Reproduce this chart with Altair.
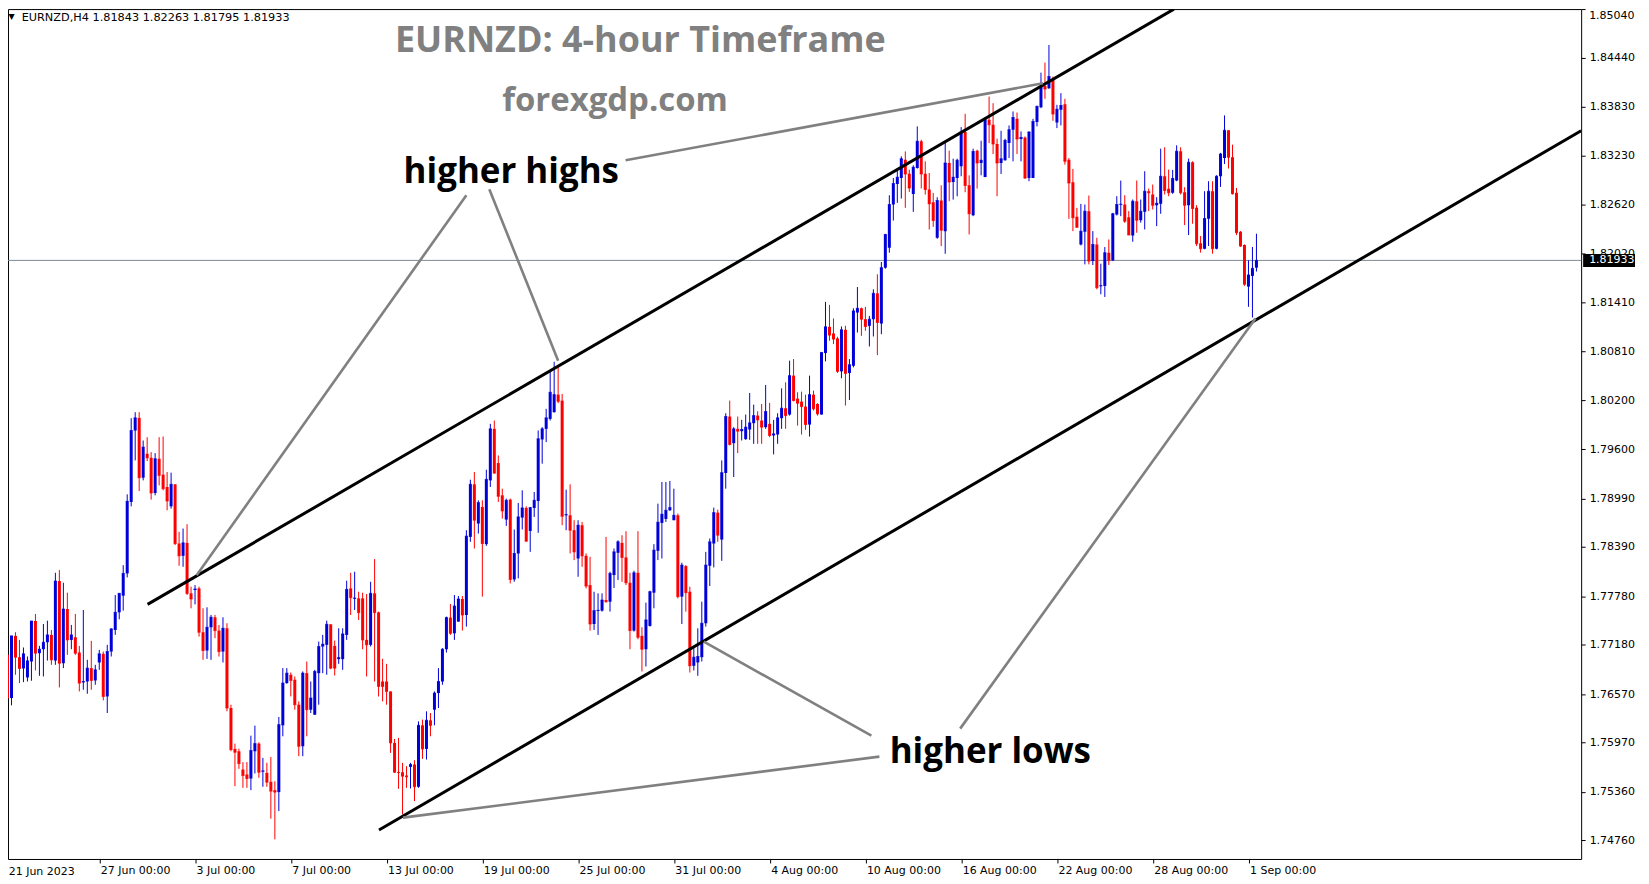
import json
import altair as alt
import pandas as pd

# ---------------- data (EURNZD H4) ----------------
opens = [
    1.76973, 1.77055, 1.76521, 1.77290, 1.77026, 1.76887, 1.76776, 1.76973, 1.77474, 1.77076,
    1.77125, 1.77211, 1.77302, 1.76985, 1.77968, 1.76952, 1.77622, 1.77240, 1.77273, 1.77084,
    1.76714, 1.76726, 1.76891, 1.76739, 1.76961, 1.77068, 1.76541, 1.77096, 1.77363, 1.77581,
    1.77787, 1.78062, 1.78946, 1.79829, 1.79986, 1.79246, 1.79542, 1.79492, 1.79057, 1.79480,
    1.79283, 1.79131, 1.78892, 1.79164, 1.78432, 1.78280, 1.78440, 1.77816, 1.77857, 1.77877,
    1.77335, 1.77109, 1.77396, 1.77520, 1.77355, 1.77096, 1.77384, 1.76398, 1.75892, 1.75863,
    1.75637, 1.75576, 1.75526, 1.75863, 1.75958, 1.75612, 1.75596, 1.75485, 1.75382, 1.75358,
    1.76184, 1.76706, 1.76809, 1.76747, 1.76439, 1.75925, 1.76829, 1.76377, 1.76315, 1.76829,
    1.77158, 1.77179, 1.77433, 1.77166, 1.77002, 1.77002, 1.77302, 1.77877, 1.77750, 1.77754,
    1.77754, 1.77240, 1.77179, 1.77816, 1.77581, 1.76726, 1.76726, 1.76603, 1.75966, 1.75608,
    1.75604, 1.75563, 1.75670, 1.75699, 1.75424, 1.76184, 1.75892, 1.76246, 1.76377, 1.76583,
    1.76726, 1.77125, 1.77516, 1.77322, 1.77466, 1.77746, 1.77548, 1.78514, 1.79164, 1.78679,
    1.78884, 1.78424, 1.79213, 1.79850, 1.79427, 1.79028, 1.78728, 1.78975, 1.77988, 1.78309,
    1.78753, 1.78872, 1.78588, 1.78872, 1.78958, 1.79719, 1.79850, 1.79973, 1.80056, 1.80273,
    1.80199, 1.78781, 1.78781, 1.78597, 1.78247, 1.78658, 1.78280, 1.77918, 1.77437, 1.77598,
    1.77602, 1.77733, 1.77713, 1.78042, 1.78317, 1.78440, 1.78260, 1.77947, 1.77355, 1.78070,
    1.77290, 1.77125, 1.77413, 1.77824, 1.78342, 1.78687, 1.78736, 1.78843, 1.78720, 1.78781,
    1.77775, 1.78153, 1.77836, 1.76920, 1.76961, 1.77026, 1.77446, 1.78157, 1.78432, 1.78814,
    1.78481, 1.79304, 1.80002, 1.79673, 1.79850, 1.79821, 1.79723, 1.79842, 1.79920, 1.80014,
    1.79953, 1.79871, 1.79912, 1.79768, 1.79780, 1.79982, 1.80105, 1.80027, 1.80508, 1.80224,
    1.80187, 1.80125, 1.79903, 1.80273, 1.80158, 1.80027, 1.80787, 1.81112, 1.81030, 1.80968,
    1.80561, 1.81075, 1.80540, 1.80630, 1.81288, 1.81341, 1.81206, 1.81124, 1.81206, 1.81526,
    1.81152, 1.81843, 1.82089, 1.82624, 1.82879, 1.82953, 1.83179, 1.83006, 1.82755, 1.83076,
    1.83405, 1.83006, 1.82809, 1.82652, 1.82213, 1.82673, 1.82295, 1.83137, 1.82903, 1.82953,
    1.83096, 1.83520, 1.82862, 1.82492, 1.83290, 1.83137, 1.82965, 1.83672, 1.83610, 1.83372,
    1.83137, 1.83170, 1.83384, 1.83549, 1.83684, 1.83433, 1.83454, 1.82953, 1.82953, 1.83643,
    1.83828, 1.84091, 1.84062, 1.84165, 1.83639, 1.83795, 1.83865, 1.83179, 1.82899, 1.82472,
    1.82131, 1.82287, 1.82542, 1.81925, 1.82131, 1.81613, 1.81617, 1.82028, 1.81933, 1.82501,
    1.82620, 1.82624, 1.82468, 1.82242, 1.82666, 1.82431, 1.82534, 1.82789, 1.82748, 1.82616,
    1.82633, 1.82974, 1.82818, 1.82769, 1.82921, 1.83282, 1.82777, 1.82616, 1.83147, 1.82583,
    1.82144, 1.82078, 1.82448, 1.82789, 1.82078, 1.82974, 1.83200, 1.83541, 1.83208, 1.82769,
    1.82288, 1.82123, 1.81609, 1.81741, 1.81843,
]
highs = [
    1.77158, 1.77055, 1.77290, 1.77335, 1.77240, 1.77146, 1.77035, 1.77474, 1.77561, 1.77166,
    1.77437, 1.77478, 1.77363, 1.78070, 1.78103, 1.77947, 1.77824, 1.77425, 1.77561, 1.77166,
    1.77610, 1.76994, 1.77228, 1.76932, 1.77117, 1.77096, 1.77179, 1.77384, 1.77795, 1.77816,
    1.78165, 1.79040, 1.79982, 1.80056, 1.80056, 1.79706, 1.79747, 1.79562, 1.79550, 1.79747,
    1.79756, 1.79316, 1.79308, 1.79164, 1.78576, 1.78617, 1.78670, 1.77898, 1.77918, 1.77898,
    1.77631, 1.77643, 1.77549, 1.77549, 1.77425, 1.77520, 1.77446, 1.76439, 1.75958, 1.75896,
    1.75728, 1.75728, 1.76056, 1.76180, 1.75974, 1.75781, 1.75720, 1.75793, 1.75493, 1.76287,
    1.76891, 1.76891, 1.76837, 1.76788, 1.76480, 1.76850, 1.76973, 1.76726, 1.76870, 1.77220,
    1.77302, 1.77478, 1.77433, 1.77232, 1.77384, 1.77384, 1.77972, 1.78070, 1.78083, 1.77836,
    1.77824, 1.77807, 1.77959, 1.78239, 1.77590, 1.77006, 1.76944, 1.76603, 1.76015, 1.76028,
    1.75720, 1.75678, 1.75720, 1.75752, 1.76233, 1.76254, 1.76357, 1.76336, 1.76603, 1.76891,
    1.77138, 1.77528, 1.77684, 1.77795, 1.77783, 1.77783, 1.78597, 1.79221, 1.79316, 1.78966,
    1.78966, 1.79345, 1.79912, 1.79953, 1.79521, 1.79110, 1.78987, 1.78987, 1.78605, 1.78934,
    1.79090, 1.78892, 1.78884, 1.79069, 1.79830, 1.79871, 1.80097, 1.80560, 1.80680, 1.80620,
    1.80282, 1.79098, 1.79164, 1.78720, 1.78720, 1.78699, 1.78309, 1.78268, 1.77836, 1.77816,
    1.77816, 1.78514, 1.78083, 1.78370, 1.78473, 1.78535, 1.78584, 1.78070, 1.78095, 1.78584,
    1.77396, 1.77701, 1.77848, 1.78424, 1.78925, 1.79193, 1.79193, 1.79205, 1.79110, 1.78802,
    1.78194, 1.78165, 1.77898, 1.77138, 1.77384, 1.77713, 1.78329, 1.78494, 1.78876, 1.78851,
    1.79460, 1.80043, 1.80199, 1.79871, 1.80002, 1.79961, 1.80027, 1.80294, 1.80150, 1.80068,
    1.80158, 1.80393, 1.80171, 1.79961, 1.80043, 1.80351, 1.80425, 1.80693, 1.80713, 1.80302,
    1.80310, 1.80273, 1.80508, 1.80323, 1.80167, 1.80795, 1.81420, 1.81383, 1.81215, 1.80989,
    1.81116, 1.81124, 1.80713, 1.81341, 1.81604, 1.81350, 1.81358, 1.81247, 1.81576, 1.81761,
    1.81913, 1.82262, 1.82739, 1.82952, 1.83076, 1.83220, 1.83281, 1.83055, 1.83109, 1.83590,
    1.83425, 1.83158, 1.83014, 1.82767, 1.82714, 1.82862, 1.83405, 1.83290, 1.83191, 1.83191,
    1.83581, 1.83746, 1.82985, 1.83314, 1.83302, 1.83413, 1.83701, 1.83959, 1.83877, 1.83438,
    1.83536, 1.83438, 1.83602, 1.83775, 1.83762, 1.83528, 1.83466, 1.83528, 1.83684, 1.83849,
    1.84255, 1.84379, 1.84597, 1.84206, 1.83857, 1.84001, 1.83931, 1.83199, 1.83064, 1.82583,
    1.82632, 1.82624, 1.82735, 1.82295, 1.82213, 1.81892, 1.82098, 1.82192, 1.82521, 1.82727,
    1.82920, 1.82739, 1.82542, 1.82686, 1.82921, 1.82686, 1.83036, 1.82822, 1.82871, 1.82715,
    1.83315, 1.83332, 1.83056, 1.83052, 1.83356, 1.83332, 1.82838, 1.83192, 1.83159, 1.82616,
    1.82234, 1.82789, 1.82912, 1.82912, 1.82986, 1.83262, 1.83726, 1.83541, 1.83364, 1.82830,
    1.82296, 1.82131, 1.81934, 1.82099, 1.82263,
]
lows = [
    1.76776, 1.76468, 1.76431, 1.76809, 1.76706, 1.76718, 1.76726, 1.76735, 1.76862, 1.76796,
    1.76788, 1.76985, 1.76932, 1.76932, 1.76652, 1.76891, 1.77055, 1.77125, 1.77055, 1.76603,
    1.76624, 1.76574, 1.76624, 1.76685, 1.76870, 1.76492, 1.76336, 1.77035, 1.77302, 1.77495,
    1.77602, 1.78013, 1.78892, 1.79460, 1.79081, 1.79213, 1.79451, 1.78975, 1.79028, 1.79151,
    1.79090, 1.78843, 1.78864, 1.78412, 1.78157, 1.78144, 1.77795, 1.77631, 1.77680, 1.77281,
    1.76994, 1.77006, 1.76994, 1.77261, 1.77035, 1.76961, 1.76357, 1.75863, 1.75432, 1.75646,
    1.75411, 1.75411, 1.75382, 1.75588, 1.75535, 1.75424, 1.75424, 1.75029, 1.74774, 1.75123,
    1.76048, 1.76698, 1.76541, 1.76377, 1.75802, 1.75802, 1.76048, 1.76336, 1.76315, 1.76439,
    1.76829, 1.76809, 1.76878, 1.76800, 1.76944, 1.76870, 1.77240, 1.77548, 1.77610, 1.77487,
    1.77125, 1.76788, 1.77158, 1.76726, 1.76541, 1.76480, 1.76439, 1.75843, 1.75596, 1.75399,
    1.75082, 1.75411, 1.75403, 1.75247, 1.75411, 1.75769, 1.75761, 1.76048, 1.76184, 1.76398,
    1.76685, 1.77084, 1.77302, 1.77240, 1.77466, 1.77355, 1.77405, 1.78453, 1.78370, 1.78555,
    1.77775, 1.78403, 1.79131, 1.79295, 1.78946, 1.78740, 1.78650, 1.77939, 1.77959, 1.78001,
    1.78605, 1.78453, 1.78329, 1.78761, 1.78564, 1.79419, 1.79686, 1.79953, 1.80052, 1.80167,
    1.78658, 1.78597, 1.78309, 1.78227, 1.78021, 1.78144, 1.77877, 1.77355, 1.77363, 1.77302,
    1.77590, 1.77700, 1.77590, 1.77882, 1.77980, 1.77959, 1.77918, 1.77125, 1.77343, 1.77248,
    1.76850, 1.76911, 1.77405, 1.77631, 1.78227, 1.78247, 1.78699, 1.78835, 1.78720, 1.77754,
    1.77437, 1.77590, 1.76837, 1.76862, 1.76796, 1.76973, 1.77405, 1.77906, 1.78136, 1.78453,
    1.78218, 1.79110, 1.79645, 1.79254, 1.79550, 1.79706, 1.79714, 1.79714, 1.79665, 1.79665,
    1.79665, 1.79850, 1.79747, 1.79534, 1.79665, 1.79850, 1.79850, 1.80014, 1.80191, 1.79891,
    1.79780, 1.79838, 1.79755, 1.80076, 1.80014, 1.80027, 1.80684, 1.80939, 1.80898, 1.80541,
    1.80475, 1.80138, 1.80207, 1.80610, 1.81041, 1.81000, 1.81062, 1.80869, 1.80992, 1.80762,
    1.81021, 1.81830, 1.82028, 1.82426, 1.82644, 1.82698, 1.82583, 1.82780, 1.82533, 1.83068,
    1.82821, 1.82747, 1.82315, 1.82348, 1.82200, 1.82110, 1.82015, 1.82665, 1.82685, 1.82726,
    1.82973, 1.82776, 1.82254, 1.82480, 1.82821, 1.82985, 1.82961, 1.83384, 1.83248, 1.82726,
    1.83002, 1.83166, 1.83199, 1.83158, 1.83249, 1.83158, 1.82940, 1.82912, 1.82953, 1.83590,
    1.83816, 1.83931, 1.84054, 1.83659, 1.83569, 1.83602, 1.83117, 1.82447, 1.82295, 1.82336,
    1.82118, 1.81884, 1.81884, 1.81876, 1.81576, 1.81514, 1.81481, 1.81876, 1.81925, 1.82488,
    1.82480, 1.82398, 1.82246, 1.82164, 1.82275, 1.82399, 1.82316, 1.82542, 1.82563, 1.82357,
    1.82510, 1.82748, 1.82727, 1.82756, 1.82912, 1.82748, 1.82370, 1.82246, 1.82386, 1.82111,
    1.82029, 1.82070, 1.82111, 1.82016, 1.82070, 1.82842, 1.83126, 1.83069, 1.82748, 1.82246,
    1.82099, 1.81618, 1.81359, 1.81227, 1.81795,
]
closes = [
    1.77043, 1.76521, 1.77290, 1.77026, 1.76887, 1.77068, 1.76981, 1.77474, 1.77076, 1.77125,
    1.77211, 1.77302, 1.76994, 1.77968, 1.76952, 1.77622, 1.77240, 1.77302, 1.77076, 1.76706,
    1.76726, 1.76891, 1.76739, 1.76870, 1.77068, 1.76541, 1.77096, 1.77376, 1.77581, 1.77816,
    1.78062, 1.78954, 1.79829, 1.79986, 1.79246, 1.79624, 1.79492, 1.79057, 1.79480, 1.79275,
    1.79110, 1.78958, 1.79164, 1.78432, 1.78280, 1.78440, 1.77816, 1.77746, 1.77869, 1.77335,
    1.77109, 1.77396, 1.77520, 1.77355, 1.77096, 1.77384, 1.76398, 1.75884, 1.75851, 1.75711,
    1.75563, 1.75526, 1.75872, 1.75958, 1.75604, 1.75621, 1.75481, 1.75370, 1.75358, 1.76192,
    1.76706, 1.76829, 1.76739, 1.76439, 1.75925, 1.76829, 1.76377, 1.76521, 1.76850, 1.77158,
    1.77187, 1.77433, 1.76891, 1.76891, 1.77022, 1.77314, 1.77865, 1.77762, 1.77758, 1.77577,
    1.77240, 1.77179, 1.77816, 1.77577, 1.76665, 1.76665, 1.76603, 1.75966, 1.75604, 1.75600,
    1.75555, 1.75547, 1.75699, 1.75424, 1.76184, 1.75892, 1.76246, 1.76184, 1.76583, 1.76726,
    1.77125, 1.77516, 1.77322, 1.77659, 1.77746, 1.77548, 1.78523, 1.79164, 1.78720, 1.78938,
    1.78432, 1.79225, 1.79850, 1.79303, 1.79016, 1.78835, 1.78966, 1.77988, 1.78309, 1.78761,
    1.78872, 1.78461, 1.78876, 1.78966, 1.79727, 1.79850, 1.79986, 1.80302, 1.80273, 1.80191,
    1.78769, 1.78790, 1.78597, 1.78329, 1.78658, 1.78280, 1.77906, 1.77437, 1.77602, 1.77606,
    1.77733, 1.77713, 1.78062, 1.78329, 1.78453, 1.78260, 1.77947, 1.77355, 1.78070, 1.77273,
    1.77125, 1.77487, 1.77836, 1.78350, 1.78695, 1.78794, 1.78843, 1.78876, 1.78781, 1.77775,
    1.78165, 1.77824, 1.76920, 1.77026, 1.77035, 1.77446, 1.78165, 1.78453, 1.78814, 1.78535,
    1.79308, 1.80002, 1.79657, 1.79850, 1.79821, 1.79842, 1.79871, 1.79924, 1.80014, 1.79961,
    1.79871, 1.80064, 1.79768, 1.79788, 1.79986, 1.80105, 1.80014, 1.80508, 1.80199, 1.80167,
    1.80125, 1.79903, 1.80273, 1.80097, 1.80035, 1.80795, 1.81112, 1.81009, 1.80960, 1.80561,
    1.81075, 1.80536, 1.80643, 1.81308, 1.81341, 1.81206, 1.81115, 1.81206, 1.81526, 1.81165,
    1.81843, 1.82254, 1.82624, 1.82883, 1.82961, 1.83191, 1.83002, 1.82829, 1.83084, 1.83405,
    1.83002, 1.82809, 1.82632, 1.82426, 1.82673, 1.82307, 1.83137, 1.82903, 1.82961, 1.83170,
    1.83520, 1.82858, 1.82509, 1.83281, 1.83137, 1.83170, 1.83672, 1.83610, 1.83372, 1.83137,
    1.83191, 1.83417, 1.83549, 1.83701, 1.83433, 1.83454, 1.82953, 1.83520, 1.83651, 1.83836,
    1.84091, 1.84054, 1.84206, 1.83742, 1.83803, 1.83849, 1.83158, 1.82891, 1.82460, 1.82344,
    1.82295, 1.82542, 1.81925, 1.82131, 1.81596, 1.81621, 1.82028, 1.81933, 1.82509, 1.82624,
    1.82628, 1.82418, 1.82246, 1.82666, 1.82431, 1.82542, 1.82789, 1.82769, 1.82616, 1.82641,
    1.82974, 1.82797, 1.82769, 1.82945, 1.83282, 1.82769, 1.82616, 1.83147, 1.82575, 1.82140,
    1.82078, 1.82452, 1.82789, 1.82078, 1.82974, 1.83249, 1.83541, 1.83208, 1.82756, 1.82275,
    1.82111, 1.81638, 1.81753, 1.81835, 1.81933,
]

date_labels = ["21 Jun 2023", "27 Jun 00:00", "3 Jul 00:00", "7 Jul 00:00", "13 Jul 00:00",
               "19 Jul 00:00", "25 Jul 00:00", "31 Jul 00:00", "4 Aug 00:00", "10 Aug 00:00",
               "16 Aug 00:00", "22 Aug 00:00", "28 Aug 00:00", "1 Sep 00:00"]
BARS_PER_LABEL = 24
price_ticks = [1.85040, 1.84440, 1.83830, 1.83230, 1.82620, 1.82020, 1.81410, 1.80810, 1.80200,
               1.79600, 1.78990, 1.78390, 1.77780, 1.77180, 1.76570, 1.75970, 1.75360, 1.74760]
last_price = 1.81933
info_text = "EURNZD,H4  1.81843 1.82263 1.81795 1.81933"

# trend lines (bar index, price)
line_id = ["up", "up", "lo", "lo",
           "g1", "g1", "g2", "g2", "g3", "g3", "g4", "g4", "g5", "g5", "g6", "g6"]
line_kind = ["channel"] * 4 + ["pointer"] * 12
line_i = [36.1, 293.3, 94.1, 395.375,
          48.4, 116.0, 121.75, 139.0, 155.9, 260.5, 219.5, 100.1, 217.5, 175.5, 239.75, 313.75]
line_p = [1.77680, 1.85040, 1.74889, 1.83536,
          1.78041, 1.82739, 1.82813, 1.80692, 1.83171, 1.84124, 1.75797, 1.75042, 1.76056, 1.77219,
          1.76143, 1.81215]

annot_text = ["EURNZD: 4-hour Timeframe", "forexgdp.com", "higher highs", "higher lows"]
annot_i = [159.6, 153.25, 127.25, 247.3]
annot_p = [1.84640, 1.83910, 1.83030, 1.75850]

# ---------------- layout / styles ----------------
W, H = 1577, 852
X_DOM = [1.125, 395.375]
Y_DOM = [1.74531, 1.85041]
BLUE, RED, GRAY = "#0000d8", "#ff0000", "#808080"
TOP_TICK = max(price_ticks)

n = len(opens)
candles = pd.DataFrame({"i": list(range(n)), "open": opens, "high": highs,
                        "low": lows, "close": closes})
candles["dir"] = ["up" if c >= o else "down" for o, c in zip(opens, closes)]

xs = alt.Scale(domain=X_DOM, nice=False, zero=False)
ys = alt.Scale(domain=Y_DOM, nice=False, zero=False)
label_js = json.dumps(date_labels)
x_axis = alt.Axis(values=[k * BARS_PER_LABEL for k in range(1, len(date_labels))],
                  labelExpr=f"{label_js}[round(datum.value/{BARS_PER_LABEL})]",
                  grid=False, domain=False, tickSize=4, tickColor="black",
                  labelAlign="left", labelBaseline="top", labelPadding=2, labelOffset=1,
                  labelFont="DejaVu Sans", labelFontSize=11, labelColor="black",
                  labelFlush=False, labelOverlap=False, title=None)
y_axis = alt.Axis(orient="right", values=price_ticks, format=".5f", grid=False, domain=False,
                  labelExpr=f"datum.value > {TOP_TICK - 0.00001} ? '' : datum.label",
                  tickSize=4, tickColor="black", labelPadding=4, labelFont="DejaVu Sans",
                  labelFontSize=11, labelColor="black", labelFlush=False, labelOverlap=False,
                  title=None)


def X(f):
    return alt.X(f"{f}:Q", scale=xs, axis=x_axis)


def Y(f):
    return alt.Y(f"{f}:Q", scale=ys, axis=y_axis)


col = alt.Color("dir:N", scale=alt.Scale(domain=["up", "down"], range=[BLUE, RED]), legend=None)

base = alt.Chart(candles)
wicks = base.mark_rule(strokeWidth=1, clip=True).encode(x=X("i"), y=Y("low"), y2="high", color=col)
bodies = base.mark_rule(strokeWidth=3, clip=True, strokeCap="butt").encode(
    x=X("i"), y=Y("open"), y2="close", color=col)
dojis = base.mark_tick(orient="horizontal", thickness=1, size=3, clip=True).encode(
    x=X("i"), y=Y("close"), color=col)

lp_df = pd.DataFrame({"p": [last_price], "t": [f"{last_price:.5f}"]})
price_line = alt.Chart(lp_df).mark_rule(color="#7d8a96", strokeWidth=1).encode(y=Y("p"))

lines_df = pd.DataFrame({"id": line_id, "kind": line_kind, "i": line_i, "p": line_p})
channel = alt.Chart(lines_df).transform_filter(alt.datum.kind == "channel").mark_line(
    color="black", strokeWidth=3, clip=True).encode(x=X("i"), y=Y("p"), detail="id:N")
pointers = alt.Chart(lines_df).transform_filter(alt.datum.kind == "pointer").mark_line(
    color=GRAY, strokeWidth=2.6, clip=True).encode(x=X("i"), y=Y("p"), detail="id:N")

ann = pd.DataFrame({"t": annot_text, "i": annot_i, "p": annot_p})
title_txt = alt.Chart(ann.iloc[[0]]).mark_text(font="Open Sans", fontWeight="bold", fontSize=36,
                                               color=GRAY, align="center").encode(
    x=X("i"), y=Y("p"), text="t:N")
site_txt = alt.Chart(ann.iloc[[1]]).mark_text(font="Open Sans", fontWeight="bold", fontSize=33,
                                              color=GRAY, align="center").encode(
    x=X("i"), y=Y("p"), text="t:N")
hl_txt = alt.Chart(ann.iloc[[2, 3]]).mark_text(font="Open Sans", fontWeight="bold", fontSize=35,
                                               color="black", align="center").encode(
    x=X("i"), y=Y("p"), text="t:N")

info_df = pd.DataFrame({"t": [info_text], "i": [4.55], "p": [1.84930]})
info = alt.Chart(info_df).mark_text(font="DejaVu Sans", fontSize=11.3, color="black",
                                    align="left").encode(x=X("i"), y=Y("p"), text="t:N")
tri_df = pd.DataFrame({"t": ["▼"], "i": [2.0], "p": [1.84948]})
tri = alt.Chart(tri_df).mark_text(font="DejaVu Sans", fontSize=8, color="black",
                                  align="center").encode(x=X("i"), y=Y("p"), text="t:N")
first_df = pd.DataFrame({"t": [date_labels[0]], "i": [1.3], "p": [Y_DOM[0]]})
first_lbl = alt.Chart(first_df).mark_text(font="DejaVu Sans", fontSize=11, color="black",
                                          align="left", baseline="top", dy=7).encode(
    x=X("i"), y=Y("p"), text="t:N")

# top price label (kept inside the visible area)
top_df = pd.DataFrame({"p": [TOP_TICK], "t": [f"{TOP_TICK:.5f}"]})
top_lbl = alt.Chart(top_df).mark_text(font="DejaVu Sans", fontSize=11, color="black",
                                      align="left", baseline="top", dy=1).encode(
    x=alt.value(W + 8), y=Y("p"), text="t:N")

box = alt.Chart(lp_df).mark_rule(color="black", strokeWidth=13).encode(
    x=alt.value(W + 2), x2=alt.value(W + 54), y=Y("p"))
box_txt = alt.Chart(lp_df).mark_text(font="DejaVu Sans", fontSize=11, color="white",
                                     align="left", baseline="middle").encode(
    x=alt.value(W + 8), y=Y("p"), text="t:N")

chart = alt.layer(
    price_line, wicks, bodies, dojis, channel, pointers,
    title_txt, site_txt, hl_txt, info, tri, first_lbl, top_lbl, box, box_txt,
).properties(
    width=W, height=H, background="white",
    autosize=alt.AutoSizeParams(type="none"),
    padding={"left": 0, "top": 0, "right": 60, "bottom": 20},
).configure_view(stroke="black", strokeWidth=1)

chart.save("out.html", embed_options={"renderer": "svg", "actions": False})
